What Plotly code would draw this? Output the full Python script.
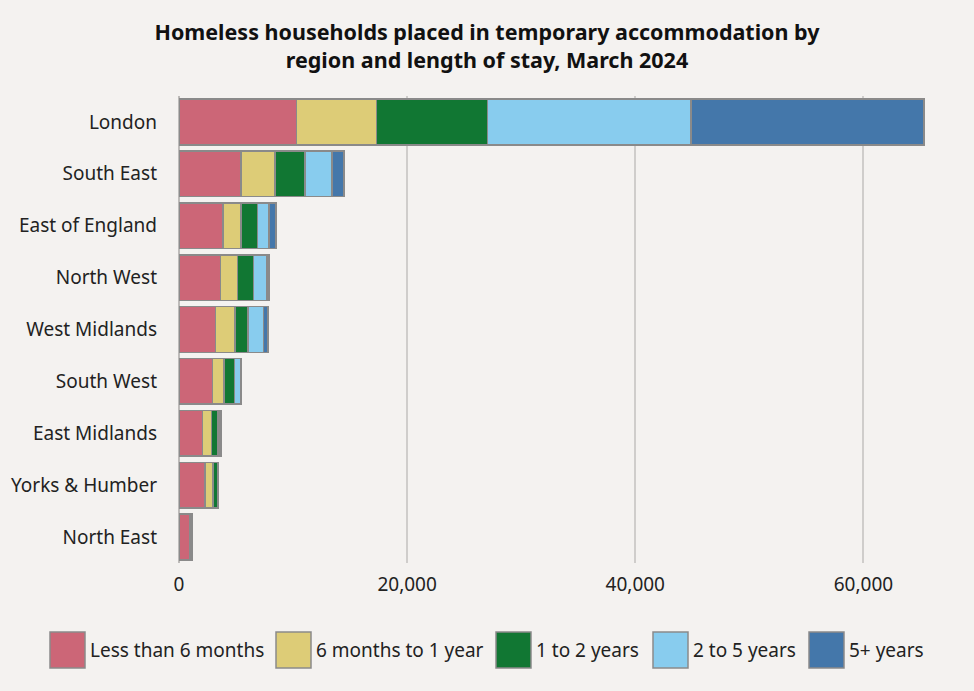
import plotly.graph_objects as go

regions = ["London", "South East", "East of England", "North West", "West Midlands",
           "South West", "East Midlands", "Yorks & Humber", "North East"]
series_names = ["Less than 6 months", "6 months to 1 year", "1 to 2 years", "2 to 5 years", "5+ years"]
less_6m   = [10300, 5430, 3850, 3620, 3180, 2920, 2040, 2280, 960]
m6_to_1y  = [7000, 3000, 1580, 1490, 1720, 1020, 810, 700, 140]
y1_to_2   = [9750, 2630, 1460, 1430, 1170, 910, 580, 410, 60]
y2_to_5   = [17850, 2340, 990, 1190, 1350, 530, 180, 50, 30]
y5_plus   = [20400, 1080, 610, 150, 400, 80, 60, 20, 10]
colors = ["#CC6677", "#DDCC77", "#117733", "#88CCEE", "#4477AA"]
tick_vals = [0, 20000, 40000, 60000]
tick_text = ["0", "20,000", "40,000", "60,000"]

W, H = 974, 691
ML, MR, MT, MB = 179, 49, 96, 128
PW, PH = W - ML - MR, H - MT - MB

def px_x(p):
    return (p - ML) / PW

def px_y(p):
    return (H - MB - p) / PH

fig = go.Figure()
for name, vals, col in zip(series_names, [less_6m, m6_to_1y, y1_to_2, y2_to_5, y5_plus], colors):
    fig.add_trace(go.Bar(
        y=regions, x=vals, name=name, orientation="h", showlegend=False,
        marker=dict(color=col, line=dict(color="#8a8a8a", width=1.5)),
        hovertemplate="%{y}: %{x:,}<extra>" + name + "</extra>",
    ))

font_family = "Noto Sans, Open Sans, DejaVu Sans, sans-serif"

# custom legend with large swatches (pixel positions of legend layout)
legend_swatch_left = [50, 276, 496, 653, 809]
sw_w, sw_top, sw_bot = 35, 632, 668
for name, col, left in zip(series_names, colors, legend_swatch_left):
    fig.add_shape(type="rect", xref="paper", yref="paper",
                  x0=px_x(left), x1=px_x(left + sw_w), y0=px_y(sw_bot), y1=px_y(sw_top),
                  fillcolor=col, line=dict(color="#8a8a8a", width=1.5))
    fig.add_annotation(xref="paper", yref="paper", x=px_x(left + sw_w + 3), y=px_y(650),
                       xanchor="left", yanchor="middle", text=name, showarrow=False,
                       font=dict(size=19, color="#222"))

fig.update_layout(
    barmode="stack",
    bargap=0.12,
    width=W, height=H,
    paper_bgcolor="#F4F2F0", plot_bgcolor="#F4F2F0",
    font=dict(family=font_family, size=19, color="#222"),
    title=dict(
        text="<b>Homeless households placed in temporary accommodation by<br>region and length of stay, March 2024</b>",
        x=0.5, xanchor="center", y=1 - 40 / H, yanchor="middle",
        font=dict(size=21.5, color="#111"),
    ),
    margin=dict(l=ML, r=MR, t=MT, b=MB),
    showlegend=False,
    xaxis=dict(
        range=[0, 65400], tickvals=tick_vals, ticktext=tick_text,
        showgrid=True, gridcolor="#CFCDCB", gridwidth=2,
        zeroline=True, zerolinecolor="#BDBBB9", zerolinewidth=2,
        ticks="", ticklabelstandoff=8, fixedrange=True,
    ),
    yaxis=dict(
        autorange="reversed", ticks="", ticklabelstandoff=21,
        showline=False, fixedrange=True,
    ),
)

fig.write_html("out.html", config={"displayModeBar": False},
               post_script="document.body.style.margin='0px';document.body.style.padding='0px';")
